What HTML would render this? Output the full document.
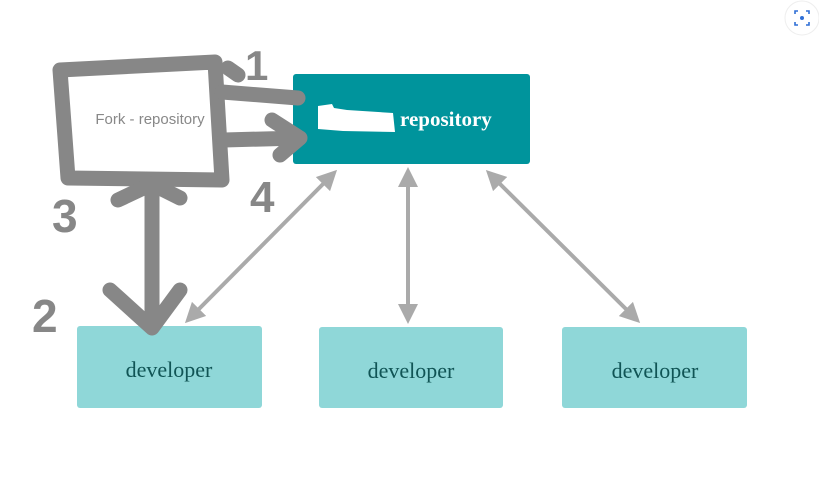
<!DOCTYPE html>
<html><head><meta charset="utf-8"><style>
html,body{margin:0;padding:0;background:#fff;width:819px;height:482px;overflow:hidden}
</style></head><body>
<svg width="819" height="482" xmlns="http://www.w3.org/2000/svg">
<defs>
<marker id="ah" markerWidth="5" markerHeight="5" refX="2.5" refY="2.5" orient="auto-start-reverse" markerUnits="strokeWidth">
<path d="M0,0 L5,2.5 L0,5 z" fill="#aaa"/></marker>
</defs>
<rect width="819" height="482" fill="#fff"/>
<circle cx="802" cy="18" r="17" fill="#fff" stroke="#eee"/>
<path d="M795,14 v-3 h3 M806,11 h3 v3 M809,22 v3 h-3 M798,25 h-3 v-3" stroke="#2f6fd6" stroke-width="1.6" fill="none"/>
<circle cx="802" cy="18" r="2" fill="#2f6fd6"/>
<rect x="293" y="74" width="237" height="90" rx="3" fill="#00949c"/>
<path d="M318,106 L332,104 L334,108 L347,110 L393,113 L395,132 L343,131 L318,129 z" fill="#fff"/>
<text x="400" y="126" font-family="Liberation Serif, serif" font-weight="bold" font-size="21" fill="#fff">repository</text>
<rect x="77" y="326" width="185" height="82" rx="3" fill="#8fd7d8"/>
<rect x="319" y="327" width="184" height="81" rx="3" fill="#8fd7d8"/>
<rect x="562" y="327" width="185" height="81" rx="3" fill="#8fd7d8"/>
<g font-family="Liberation Serif, serif" font-size="22" fill="#105455" text-anchor="middle">
<text x="169" y="377">developer</text><text x="411" y="378">developer</text><text x="655" y="378">developer</text>
</g>
<g stroke="#aaa" stroke-width="4" fill="none">
<line x1="330" y1="177" x2="192" y2="316" marker-start="url(#ah)" marker-end="url(#ah)"/>
<line x1="408" y1="177" x2="408" y2="314" marker-start="url(#ah)" marker-end="url(#ah)"/>
<line x1="493" y1="177" x2="633" y2="316" marker-start="url(#ah)" marker-end="url(#ah)"/>
</g>
<g stroke="#878787" stroke-width="15" fill="none" stroke-linecap="round" stroke-linejoin="round">
<path d="M60,70 L215,62 L222,180 L68,178 z"/>
<path d="M222,92 L298,98"/>
<path d="M224,140 L300,138 M272,120 L300,138 L280,155"/>
<path d="M228,68 L238,75"/>
<path d="M152,188 L152,328 M118,200 L152,184 L180,198 M110,290 L152,328 L180,290"/>
</g>
<text x="150" y="124" font-family="Liberation Sans, sans-serif" font-size="15" fill="#888" text-anchor="middle">Fork - repository</text>
<g font-family="Liberation Sans, sans-serif" font-weight="bold" fill="#878787">
<text x="245" y="80" font-size="42">1</text>
<text x="32" y="332" font-size="46">2</text>
<text x="52" y="232" font-size="46">3</text>
<text x="250" y="212" font-size="44">4</text>
</g>
</svg>
</body></html>
